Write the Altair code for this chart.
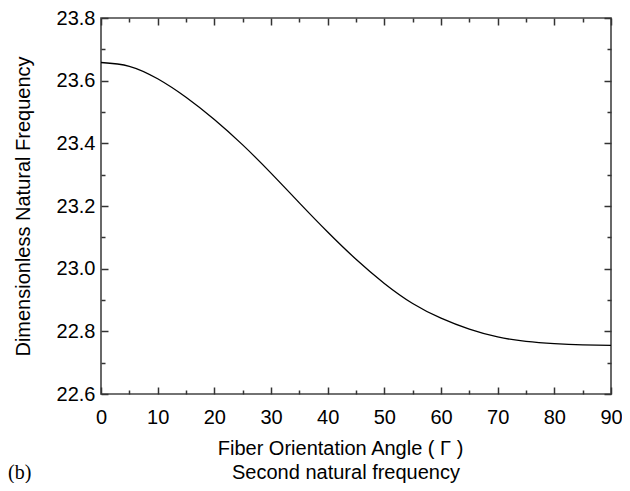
import altair as alt
import pandas as pd

# Data
angle = [0, 5, 10, 15, 20, 25, 30, 35, 40, 45, 50, 55, 60, 65, 70, 75, 80, 85, 90]
freq = [23.658, 23.646, 23.606, 23.547, 23.476, 23.395, 23.305, 23.210, 23.117,
        23.030, 22.953, 22.889, 22.842, 22.807, 22.782, 22.768, 22.761, 22.757, 22.755]

x_major = [0, 10, 20, 30, 40, 50, 60, 70, 80, 90]
x_minor = [5, 15, 25, 35, 45, 55, 65, 75, 85]
y_major = [22.6, 22.8, 23.0, 23.2, 23.4, 23.6, 23.8]
y_minor = [22.7, 22.9, 23.1, 23.3, 23.5, 23.7]

panel_label = ["(b)"]
caption = ["Second natural frequency"]

df = pd.DataFrame({"angle": angle, "freq": freq})

xs = alt.Scale(domain=[0, 90], nice=False, zero=False)
ys = alt.Scale(domain=[22.6, 23.8], nice=False, zero=False)

FONT = "Liberation Sans"
TICK = "#333333"
FS = 20

base = alt.Chart(df)

main = base.mark_line(color="black", strokeWidth=1.3, interpolate="natural").encode(
    x=alt.X("angle:Q", scale=xs, axis=alt.Axis(
        orient="bottom", values=x_major, ticks=False, domain=False, grid=False,
        labelFlush=False, labelPadding=13, labelFontSize=FS, labelFont=FONT,
        labelColor="black",
        title="Fiber Orientation Angle ( \u0393 )", titleFont=FONT, titleFontSize=FS,
        titleFontWeight="normal", titleColor="black", titlePadding=11,
        titleX=239, titleAlign="center")),
    y=alt.Y("freq:Q", scale=ys, axis=alt.Axis(
        orient="left", values=y_major, ticks=False, domain=False, grid=False,
        labelFlush=False, format=".1f", labelPadding=6, labelFontSize=FS,
        labelFont=FONT, labelColor="black",
        title="Dimensionless Natural Frequency", titleFont=FONT, titleFontSize=FS,
        titleFontWeight="normal", titleColor="black", titlePadding=23)),
)


def tick_layer(xo, yo, xv, yv, size):
    return base.mark_line(strokeOpacity=0).encode(
        x=alt.X("angle:Q", scale=xs, axis=alt.Axis(
            orient=xo, values=xv, labels=False, domain=False, grid=False,
            ticks=True, tickSize=size, offset=-size, tickColor=TICK, tickWidth=1.5,
            title=None)),
        y=alt.Y("freq:Q", scale=ys, axis=alt.Axis(
            orient=yo, values=yv, labels=False, domain=False, grid=False,
            ticks=True, tickSize=size, offset=-size, tickColor=TICK, tickWidth=1.5,
            title=None)),
    )


label_b = alt.Chart(pd.DataFrame({"t": panel_label})).mark_text(
    font="Liberation Serif", fontSize=20, align="left", baseline="middle", color="black"
).encode(text="t:N", x=alt.value(-93), y=alt.value(455))

label_caption = alt.Chart(pd.DataFrame({"t": caption})).mark_text(
    font=FONT, fontSize=FS, align="center", baseline="middle", color="black"
).encode(text="t:N", x=alt.value(245), y=alt.value(455))

chart = alt.layer(
    main,
    tick_layer("bottom", "left", x_major, y_major, 7),
    tick_layer("bottom", "left", x_minor, y_minor, 4),
    tick_layer("top", "right", x_major, y_major, 7),
    tick_layer("top", "right", x_minor, y_minor, 4),
    label_b,
    label_caption,
).resolve_axis(x="independent", y="independent").properties(
    width=510, height=376,
    autosize=alt.AutoSizeParams(type="none"),
    padding={"left": 93, "top": 10, "right": 11, "bottom": 89},
).configure_view(stroke="#444444", strokeWidth=1.6)

chart.save("out.html", embed_options={"renderer": "svg", "actions": False})
